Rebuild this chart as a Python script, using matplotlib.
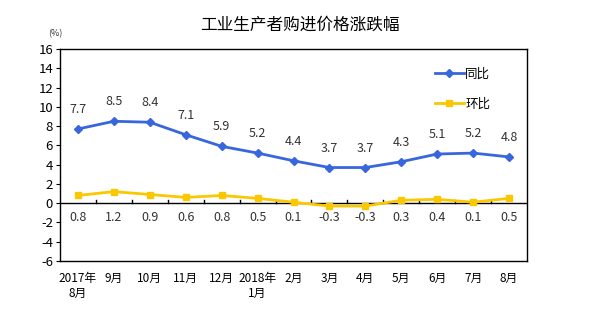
import matplotlib
matplotlib.use("Agg")
import matplotlib.pyplot as plt
import numpy as np

plt.rcParams['font.family'] = ['Noto Sans CJK SC', 'DejaVu Sans']
plt.rcParams['axes.unicode_minus'] = False

months = ['2017年\n8月', '9月', '10月', '11月', '12月', '2018年\n1月', '2月',
          '3月', '4月', '5月', '6月', '7月', '8月']
yoy = [7.7, 8.5, 8.4, 7.1, 5.9, 5.2, 4.4, 3.7, 3.7, 4.3, 5.1, 5.2, 4.8]
mom = [0.8, 1.2, 0.9, 0.6, 0.8, 0.5, 0.1, -0.3, -0.3, 0.3, 0.4, 0.1, 0.5]

blue = '#3866DC'
yellow = '#FAC800'

fig = plt.figure(figsize=(6, 3.25), dpi=100)
ax = fig.add_axes([60 / 600, 1 - 261 / 325, 467 / 600, 212 / 325])

x = np.arange(len(months))
ax.plot(x, yoy, color=blue, lw=2, marker='D', ms=4, label='同比', zorder=3)
ax.plot(x, mom, color=yellow, lw=2, marker='s', ms=5, label='环比', zorder=3)

for xi, v in zip(x, yoy):
    ax.annotate('%.1f' % v, (xi, v), xytext=(0, 14), textcoords='offset points',
                ha='center', va='center', fontsize=9, color='#333333')
for xi, v in zip(x, mom):
    ax.text(xi, -1.45, '%.1f' % v, ha='center', va='center', fontsize=9, color='#333333')

ax.set_xlim(-0.5, len(months) - 0.5)
ax.set_ylim(-6, 16)
ax.set_yticks(range(-6, 17, 2))
ax.tick_params(axis='y', labelsize=9.5, length=3, direction='out', pad=2)
ax.set_xticks(x)
ax.set_xticklabels(months, fontsize=8.5)
ax.tick_params(axis='x', length=0, pad=8)

ax.axhline(0, color='black', lw=1, zorder=2)
for b in np.arange(0.5, len(months) - 1, 1):
    ax.plot([b, b], [0, 0.35], color='black', lw=1, zorder=2)

for s in ax.spines.values():
    s.set_linewidth(1)

ax.legend(loc='upper right', bbox_to_anchor=(0.945, 0.965), frameon=False,
          fontsize=9, handlelength=2.3, handletextpad=0.1, labelspacing=1.35)

fig.text(300 / 600, 1 - 25 / 325, '工业生产者购进价格涨跌幅', ha='center', va='center', fontsize=12)
fig.text(55 / 600, 1 - 34 / 325, '(%)', ha='center', va='center', fontsize=6.5, color='#333333')

fig.savefig('out.png', dpi=100)
